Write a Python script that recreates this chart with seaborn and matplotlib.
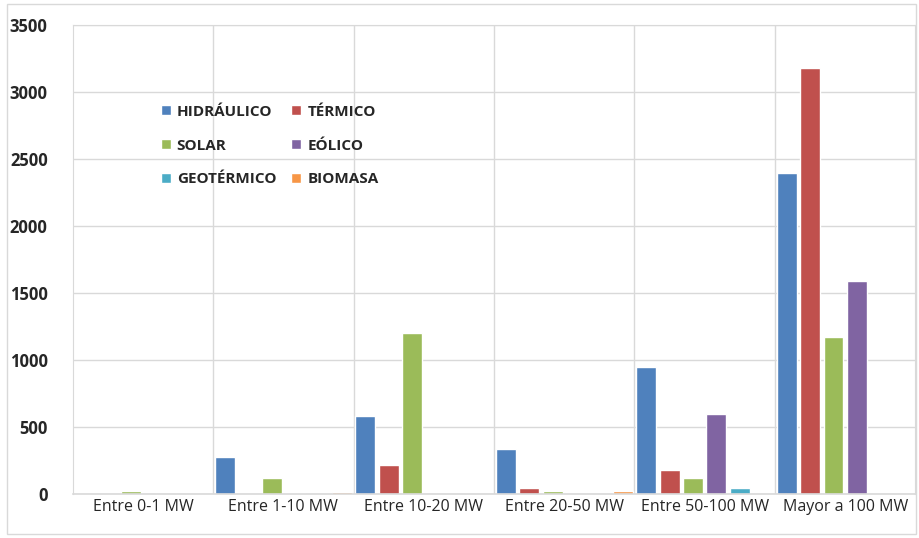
import pandas as pd
import matplotlib.pyplot as plt
import seaborn as sns
import matplotlib

categorias = ['Entre 0-1 MW', 'Entre 1-10 MW', 'Entre 10-20 MW', 'Entre 20-50 MW',
              'Entre 50-100 MW', 'Mayor a 100 MW']
tecnologias = ['HIDRÁULICO', 'TÉRMICO', 'SOLAR', 'EÓLICO', 'GEOTÉRMICO', 'BIOMASA']

hidraulico = [0, 272, 583, 335, 950, 2395]
termico = [0, 0, 218, 42, 175, 3180]
solar = [20, 120, 1205, 20, 120, 1170]
eolico = [0, 10, 0, 0, 600, 1590]
geotermico = [0, 0, 0, 0, 45, 0]
biomasa = [0, 15, 0, 20, 0, 0]

colores = ['#4F81BD', '#C0504D', '#9BBB59', '#8064A2', '#4BACC6', '#F79646']

sns.set_style("white")
matplotlib.rcParams['font.family'] = ['Open Sans', 'DejaVu Sans']

series = [hidraulico, termico, solar, eolico, geotermico, biomasa]
filas = []
for tec, vals in zip(tecnologias, series):
    for cat, v in zip(categorias, vals):
        filas.append({'categoria': cat, 'tecnologia': tec, 'valor': v})
df = pd.DataFrame(filas)

fig = plt.figure(figsize=(9.2, 5.38), dpi=100)
ax = fig.add_axes([0.079, 0.082, 0.916, 0.871])
sns.barplot(data=df, x='categoria', y='valor', hue='tecnologia', order=categorias,
            hue_order=tecnologias, palette=colores, width=1.0, gap=0.15,
            saturation=1, ax=ax, errorbar=None)

ax.set_ylim(0, 3500)
ax.set_xlim(-0.5, 5.5)
ax.set_yticks(range(0, 3501, 500))
ax.set_xlabel('')
ax.set_ylabel('')
ax.grid(axis='y', color='#D9D9D9', linewidth=1)
for x in [0.5, 1.5, 2.5, 3.5, 4.5]:
    ax.axvline(x, color='#D9D9D9', linewidth=1, zorder=0)
ax.set_axisbelow(True)
for s in ['top', 'right', 'left']:
    ax.spines[s].set_color('#D9D9D9')
ax.spines['bottom'].set_color('#D9D9D9')
ax.spines['bottom'].set_linewidth(1.2)
ax.tick_params(axis='both', length=0)
ax.tick_params(axis='y', pad=18)
for lbl in ax.get_yticklabels():
    lbl.set_fontweight('bold')
    lbl.set_fontsize(12)
for lbl in ax.get_xticklabels():
    lbl.set_fontsize(11.5)

# leyenda por filas, como en el original
handles, labels = ax.get_legend_handles_labels()
orden = [0, 2, 4, 1, 3, 5]
ax.legend([handles[i] for i in orden], [labels[i] for i in orden],
          loc='upper left', bbox_to_anchor=(0.088, 0.86), ncol=2, frameon=False,
          prop={'weight': 'bold', 'size': 11}, handlelength=0.65, handleheight=0.65,
          columnspacing=1.0, labelspacing=1.3, handletextpad=0.4)

fig.patches.append(plt.Rectangle((0.008, 0.008), 0.988, 0.984, transform=fig.transFigure,
                                 fill=False, edgecolor='#D9D9D9', linewidth=1))

plt.savefig('out.png', dpi=100)
